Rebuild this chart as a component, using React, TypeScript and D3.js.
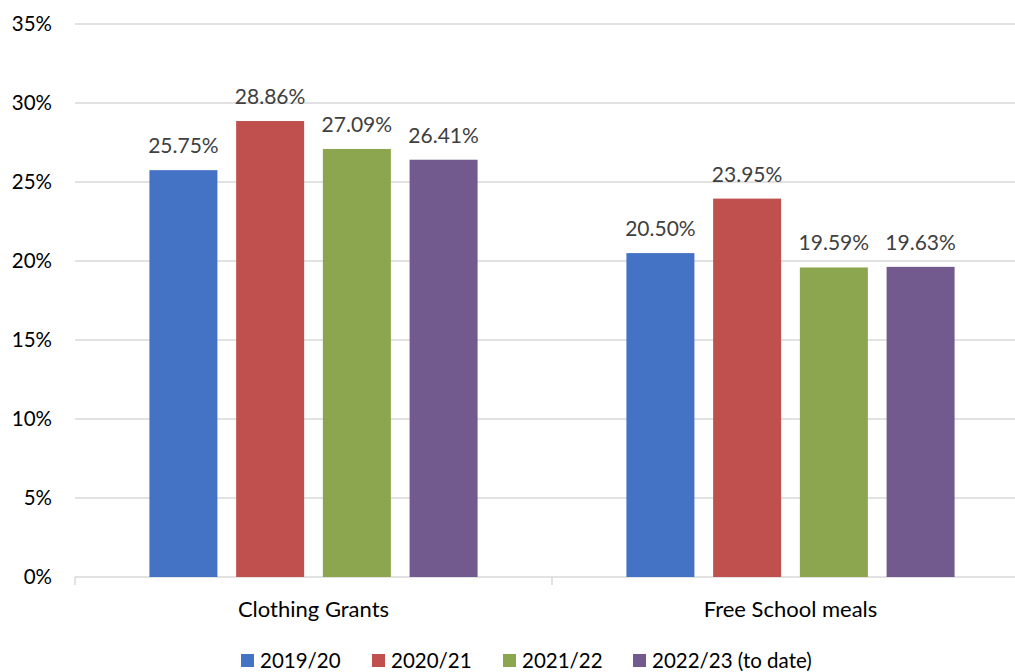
import React from "react";
import * as d3 from "d3";

const categories = ["Clothing Grants", "Free School meals"];
const seriesNames = ["2019/20", "2020/21", "2021/22", "2022/23 (to date)"];
const seriesColors = ["#4472C4", "#C0504D", "#8BA64E", "#725A8F"];
const values = [
  [25.75, 20.5],
  [28.86, 23.95],
  [27.09, 19.59],
  [26.41, 19.63],
];
const yTicks = [0, 5, 10, 15, 20, 25, 30, 35];

const W = 1015;
const H = 672;
const FONT = "Lato, 'Noto Sans', sans-serif";

export default function App() {
  const left = 75;
  const right = 1029;
  const top = 24;
  const bottom = 577;
  const x0 = d3.scaleBand<string>().domain(categories).range([left, right]).paddingInner(0).paddingOuter(0);
  const y = d3.scaleLinear().domain([0, 35]).range([bottom, top]);
  const inner = d3
    .scaleBand<string>()
    .domain(seriesNames)
    .range([0, x0.bandwidth()])
    .paddingInner(0.216)
    .paddingOuter(0.858);

  const legendX = [241, 372, 503, 633];

  return (
    <svg width={W} height={H} style={{ position: "absolute", left: 0, top: 0 }} fontFamily={FONT}>
      <rect width={W} height={H} fill="#fff" />
      {yTicks.map((t) => (
        <g key={t}>
          <line x1={left} x2={right} y1={y(t)} y2={y(t)} stroke="#D9D9D9" strokeWidth={1.5} />
          <text x={52} y={y(t)} dy="0.36em" textAnchor="end" fontSize={20.5} fill="#000">
            {t}%
          </text>
        </g>
      ))}
      {[left, left + x0.bandwidth(), right].map((xx, i) => (
        <line key={i} x1={xx} x2={xx} y1={bottom} y2={bottom + 8} stroke="#D9D9D9" strokeWidth={1.5} />
      ))}
      {categories.map((c, ci) => (
        <g key={c}>
          {seriesNames.map((s, si) => {
            const v = values[si][ci];
            const bx = (x0(c) as number) + (inner(s) as number);
            return (
              <g key={s}>
                <rect x={bx} y={y(v)} width={inner.bandwidth()} height={bottom - y(v)} fill={seriesColors[si]} />
                <text
                  x={bx + inner.bandwidth() / 2}
                  y={y(v) - 17}
                  textAnchor="middle"
                  fontSize={21}
                  fill="#404040"
                >
                  {v.toFixed(2)}%
                </text>
              </g>
            );
          })}
          <text
            x={(x0(c) as number) + x0.bandwidth() / 2}
            y={617}
            textAnchor="middle"
            fontSize={22}
            fill="#000"
          >
            {c}
          </text>
        </g>
      ))}
      {seriesNames.map((s, i) => (
        <g key={s}>
          <rect x={legendX[i]} y={654} width={13} height={13} fill={seriesColors[i]} />
          <text x={legendX[i] + 19} y={668} fontSize={20.5} fill="#000">
            {s}
          </text>
        </g>
      ))}
    </svg>
  );
}
